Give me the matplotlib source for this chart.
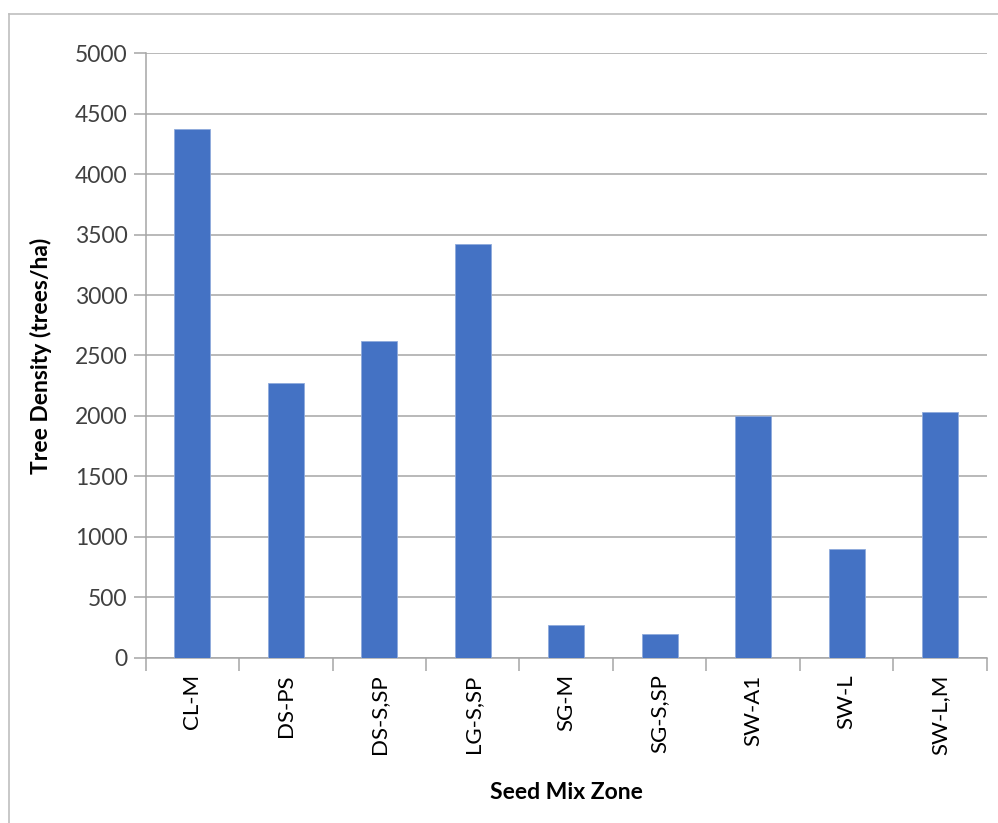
import matplotlib
matplotlib.use("Agg")
import matplotlib.pyplot as plt
from matplotlib.lines import Line2D
import numpy as np

zones = ["CL-M", "DS-PS", "DS-S,SP", "LG-S,SP", "SG-M", "SG-S,SP", "SW-A1", "SW-L", "SW-L,M"]
density = [4370, 2270, 2620, 3425, 273, 193, 2000, 897, 2030]
yticks = [0, 500, 1000, 1500, 2000, 2500, 3000, 3500, 4000, 4500, 5000]

plt.rcParams["font.family"] = ["Lato", "DejaVu Sans"]

fig = plt.figure(figsize=(9.98, 8.23), dpi=100)
ax = fig.add_axes([0.146, 0.2009, 0.8427, 0.7343])

x = np.arange(len(zones))
ax.bar(x, density, width=0.385, color="#4472C4", edgecolor="#8faadc", linewidth=0.6, zorder=3)

grid_c = "#a6a6a6"
ax.set_xlim(-0.5, len(zones) - 0.5)
ax.set_ylim(0, 5000)
ax.set_yticks(yticks)
ax.set_yticklabels([str(v) for v in yticks], fontsize=16.5, color="#404040")
ax.yaxis.grid(True, color=grid_c, linewidth=1.1, zorder=0)
ax.set_axisbelow(True)

ax.set_xticks(x)
ax.set_xticklabels(zones, rotation=90, fontsize=16, color="#000000")
ax.set_xticks(np.arange(-0.5, len(zones) + 0.5, 1), minor=True)
ax.tick_params(axis="x", which="major", length=0, pad=12)
ax.tick_params(axis="x", which="minor", length=9, color=grid_c, width=1.1)
ax.tick_params(axis="y", length=9, color=grid_c, width=1.1, pad=4)

for s in ["top", "right"]:
    ax.spines[s].set_visible(False)
for s in ["left", "bottom"]:
    ax.spines[s].set_color(grid_c)
    ax.spines[s].set_linewidth(1.1)

ax.set_xlabel("Seed Mix Zone", fontsize=16.5, fontweight="bold")
ax.set_ylabel("Tree Density (trees/ha)", fontsize=16.5, fontweight="bold")
ax.xaxis.set_label_coords(0.5, -0.205)
ax.yaxis.set_label_coords(-0.111, 0.5)

# chart frame
fx = 8.5 / 998
fy = 1 - 13.5 / 823
fig.add_artist(Line2D([fx, 1.0], [fy, fy], color="#bfbfbf", linewidth=1.2, transform=fig.transFigure))
fig.add_artist(Line2D([fx, fx], [0, fy], color="#bfbfbf", linewidth=1.2, transform=fig.transFigure))

fig.savefig("out.png", dpi=100)
